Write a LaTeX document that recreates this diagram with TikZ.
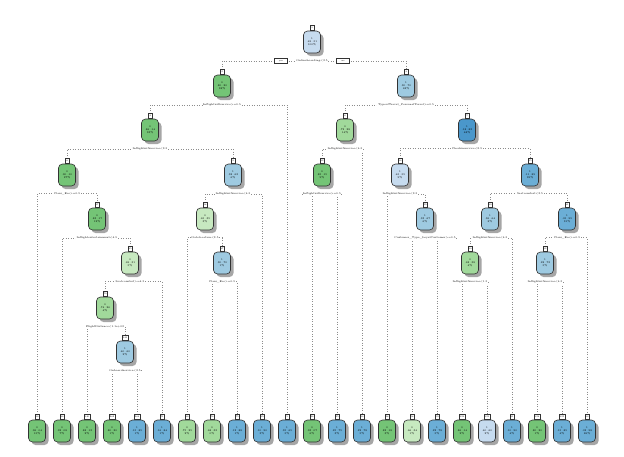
\documentclass[tikz,border=0pt]{standalone}
\usetikzlibrary{positioning,shadows,backgrounds}
\definecolor{gA}{HTML}{74C476}
\definecolor{gB}{HTML}{A1D99B}
\definecolor{gC}{HTML}{C7E9C0}
\definecolor{bA}{HTML}{6BAED6}
\definecolor{bB}{HTML}{9ECAE1}
\definecolor{bC}{HTML}{C6DBEF}
\definecolor{bD}{HTML}{4A97CB}
\begin{document}
\begin{tikzpicture}[x=1pt,y=-1pt,
    box/.style={rectangle,rounded corners=4pt,draw=black!80,line width=0.6pt,minimum width=17pt,minimum height=22pt,inner sep=0pt,align=center,font=\fontsize{2.6}{3.1}\selectfont,drop shadow={shadow xshift=3pt,shadow yshift=-3pt,fill=black!35,opacity=1}},
    tab/.style={draw=black!80,fill=white,line width=0.45pt,inner sep=0.5pt,minimum width=4pt,minimum height=5pt,font=\fontsize{2.2}{2.2}\selectfont},
    split/.style={fill=white,inner sep=0.6pt,font=\fontsize{2.6}{3.1}\selectfont},
    edge/.style={draw=black!45,dotted,line width=0.5pt},
    yn/.style={draw=black!80,fill=white,line width=0.45pt,inner sep=0.4pt,minimum width=13pt,minimum height=5pt,font=\fontsize{2.2}{2.2}\selectfont}]
    \useasboundingbox (0,0) rectangle (624,456);

% split nodes
\node[box,fill=bC,label={[tab,name=t1]above:1}] (n1) at (312,42) {1\\.49 .51\\100\%};
\node[box,fill=gA,label={[tab,name=t2]above:2}] (n2) at (222,86) {0\\.80 .20\\38\%};
\node[box,fill=bB,label={[tab,name=t3]above:3}] (n3) at (406,86) {1\\.30 .70\\62\%};
\node[box,fill=gA,label={[tab,name=t4]above:4}] (n4) at (150,130) {0\\.86 .14\\33\%};
\node[box,fill=gB,label={[tab,name=t6]above:6}] (n6) at (345,130) {0\\.72 .28\\14\%};
\node[box,fill=bD,label={[tab,name=t7]above:7}] (n7) at (467,130) {1\\.18 .82\\48\%};
\node[box,fill=gA,label={[tab,name=t8]above:8}] (n8) at (67,175) {0\\.90 .10\\27\%};
\node[box,fill=bB,label={[tab,name=t9]above:9}] (n9) at (233,175) {1\\.38 .62\\6\%};
\node[box,fill=gA,label={[tab,name=t12]above:12}] (n12) at (322,175) {0\\.85 .15\\9\%};
\node[box,fill=bC,label={[tab,name=t14]above:14}] (n14) at (400,175) {1\\.45 .55\\9\%};
\node[box,fill=bA,label={[tab,name=t15]above:15}] (n15) at (530,175) {1\\.11 .89\\39\%};
\node[box,fill=gA,label={[tab,name=t17]above:17}] (n17) at (97,219) {0\\.83 .17\\12\%};
\node[box,fill=gC,label={[tab,name=t18]above:18}] (n18) at (205,219) {0\\.65 .35\\3\%};
\node[box,fill=bB,label={[tab,name=t29]above:29}] (n29) at (425,219) {1\\.33 .67\\6\%};
\node[box,fill=bB,label={[tab,name=t30]above:30}] (n30) at (490,219) {1\\.36 .64\\8\%};
\node[box,fill=bA,label={[tab,name=t31]above:31}] (n31) at (567,219) {1\\.05 .95\\31\%};
\node[box,fill=gC,label={[tab,name=t35]above:35}] (n35) at (130,263) {0\\.69 .31\\5\%};
\node[box,fill=bB,label={[tab,name=t37]above:37}] (n37) at (222,263) {1\\.30 .70\\1\%};
\node[box,fill=gB,label={[tab,name=t60]above:60}] (n60) at (470,263) {0\\.62 .38\\4\%};
\node[box,fill=bB,label={[tab,name=t62]above:62}] (n62) at (545,263) {1\\.28 .72\\5\%};
\node[box,fill=gB,label={[tab,name=t70]above:70}] (n70) at (105,308) {0\\.74 .26\\4\%};
\node[box,fill=bB,label={[tab,name=t141]above:141}] (n141) at (125,352) {1\\.40 .60\\2\%};

% leaves
\foreach \x/\n/\c/\txt in {37/16/gA/{0\\.96 .04\\15\%}, 62/34/gA/{0\\.92 .08\\7\%},
    87/140/gA/{0\\.88 .12\\2\%}, 112/282/gA/{0\\.80 .20\\1\%}, 137/283/bA/{1\\.15 .85\\1\%},
    162/71/bA/{1\\.16 .84\\1\%}, 187/36/gB/{0\\.75 .25\\2\%}, 212/74/gB/{0\\.68 .32\\0\%},
    237/75/bA/{1\\.12 .88\\1\%}, 262/19/bA/{1\\.10 .90\\3\%}, 287/5/bA/{1\\.35 .65\\5\%},
    312/24/gA/{0\\.93 .07\\6\%}, 337/25/bA/{1\\.25 .75\\3\%}, 362/13/bA/{1\\.22 .78\\5\%},
    387/28/gA/{0\\.82 .18\\3\%}, 412/58/gC/{0\\.66 .34\\1\%}, 437/59/bA/{1\\.22 .78\\5\%},
    462/120/gA/{0\\.86 .14\\2\%}, 487/121/bC/{1\\.40 .60\\2\%}, 512/61/bA/{1\\.10 .90\\4\%},
    537/124/gA/{0\\.80 .20\\1\%}, 562/125/bA/{1\\.15 .85\\4\%}, 587/63/bA/{1\\.02 .98\\26\%}}
  \node[box,fill=\c,label={[tab,name=t\n]above:\n}] (n\n) at (\x,431) {\txt};

% split labels
\foreach \p/\txt in {1/{Onlineboarding<3.5}, 2/{Inflightwifiservice>=0.5},
    3/{TypeofTravel\_PersonalTravel>=0.5}, 4/{Inflightwifiservice<3.5},
    6/{Inflightwifiservice<4.5}, 7/{Checkinservice<2.5}, 8/{Class\_Eco>=0.5},
    9/{Inflightwifiservice<4.5}, 12/{Inflightwifiservice>=0.5}, 14/{Inflightwifiservice<3.5},
    15/{Seatcomfort<3.5}, 17/{Inflightentertainment<4.5}, 18/{Gatelocation<3.5},
    29/{Customer\_Type\_LoyalCustomer>=0.5}, 30/{Inflightwifiservice<4.5}, 31/{Class\_Eco>=0.5},
    35/{Seatcomfort>=4.5}, 37/{Class\_Eco>=0.5}, 60/{Inflightwifiservice<1.5},
    62/{Inflightwifiservice<4.5}, 70/{FlightDistance<1.1e+03}, 141/{Onboardservice<3.5}}
  \node[split,below=5.5pt of n\p] (s\p) {\txt};

\node[yn,left=8pt of s1] (yes) {yes};
\node[yn,right=8pt of s1] (no) {no};

\begin{scope}[on background layer]
\foreach \p/\a/\b in {1/2/3,2/4/5,3/6/7,4/8/9,6/12/13,7/14/15,8/16/17,9/18/19,12/24/25,
    14/28/29,15/30/31,17/34/35,18/36/37,29/58/59,30/60/61,31/62/63,35/70/71,37/74/75,
    60/120/121,62/124/125,70/140/141,141/282/283}
  \draw[edge] (t\a.north) |- (s\p) -| (t\b.north);
\end{scope}

\end{tikzpicture}
\end{document}
